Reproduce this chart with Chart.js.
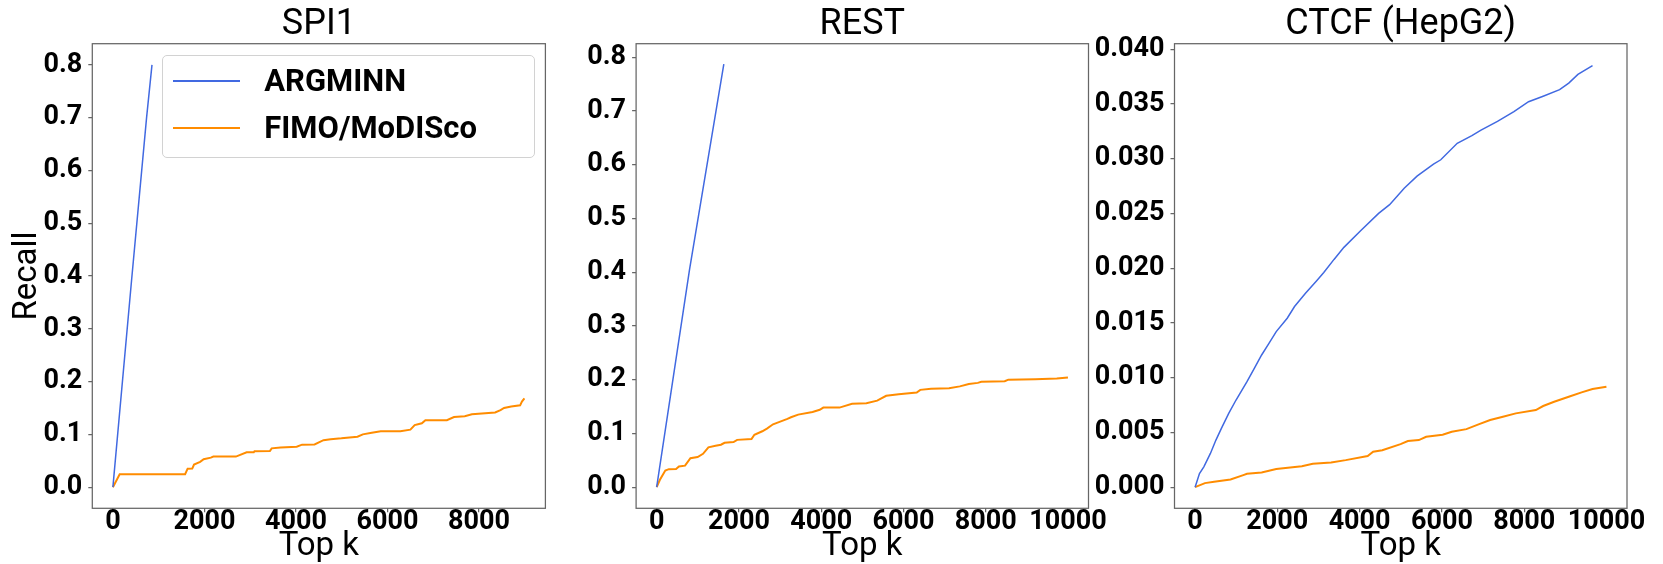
<!DOCTYPE html>
<html>
<head>
<meta charset="utf-8">
<script src="https://cdn.jsdelivr.net/npm/chart.js@4.4.1/dist/chart.umd.min.js"></script>
<style>
  html, body { margin: 0; padding: 0; background: #fff; }
  #wrap { position: relative; width: 1663px; height: 564px; overflow: hidden; background: #fff; }
  canvas { position: absolute; top: 0; }
  #legend { position: absolute; left: 161.7px; top: 54.5px; width: 371px; height: 101px;
            border: 1px solid #d2d2d2; border-radius: 5px; background: rgba(255,255,255,0.85);
            font-family: Roboto, sans-serif; font-weight: 700; font-size: 31px; color: #000; }
  .lg-line { position: absolute; left: 10px; width: 67px; height: 2px; }
  .lg-text { position: absolute; left: 101.6px; line-height: 31px; white-space: nowrap; }
</style>
</head>
<body>
<div id="wrap">
  <canvas id="c1" width="575" height="564" style="left:0px"></canvas>
  <canvas id="c2" width="560" height="564" style="left:560px"></canvas>
  <canvas id="c3" width="578" height="564" style="left:1085px"></canvas>
  <div id="legend">
    <div class="lg-line" style="top:24.8px;background:#4169e1"></div>
    <div class="lg-text" style="top:9.9px">ARGMINN</div>
    <div class="lg-line" style="top:71.5px;background:#ff8c00"></div>
    <div class="lg-text" style="top:56.9px">FIMO/MoDISco</div>
  </div>
</div>
<script>
// ---------------- data ----------------
const seriesNames = ['ARGMINN', 'FIMO/MoDISco'];
const panelTitles = ['SPI1', 'REST', 'CTCF (HepG2)'];

// SPI1
const spi1ArgminnK = [0, 408, 736, 854];
const spi1ArgminnRecall = [0, 0.392, 0.70, 0.80];
const spi1FimoK = [0, 148, 1578, 1633, 1734, 1773, 1906, 1984, 2140, 2195, 2688, 2922, 3078, 3094, 3430, 3469, 3664, 4016, 4133, 4406, 4602, 4758, 4992, 5344, 5461, 5656, 5852, 6281, 6500, 6594, 6750, 6828, 7297, 7453, 7688, 7844, 8352, 8469, 8547, 8703, 8898, 8937, 8992];
const spi1FimoRecall = [0, 0.0245, 0.0245, 0.035, 0.0352, 0.043, 0.048, 0.053, 0.056, 0.058, 0.058, 0.066, 0.066, 0.068, 0.0685, 0.0735, 0.075, 0.0767, 0.0805, 0.081, 0.089, 0.091, 0.0925, 0.0955, 0.100, 0.103, 0.106, 0.106, 0.109, 0.1175, 0.121, 0.127, 0.127, 0.133, 0.1345, 0.138, 0.1415, 0.146, 0.150, 0.153, 0.155, 0.162, 0.168];

// REST
const restArgminnK = [0, 800, 1633];
const restArgminnRecall = [0, 0.405, 0.787];
const restFimoK = [0, 79, 210, 297, 472, 541, 690, 821, 996, 1127, 1258, 1432, 1563, 1651, 1869, 1956, 2306, 2376, 2568, 2681, 2830, 3004, 3179, 3266, 3441, 3790, 3965, 4052, 4445, 4751, 5100, 5362, 5581, 5886, 6323, 6410, 6672, 7109, 7371, 7590, 7808, 7895, 8463, 8550, 9205, 9729, 10000];
const restFimoRecall = [0, 0.0137, 0.031, 0.0335, 0.034, 0.0385, 0.040, 0.054, 0.056, 0.062, 0.074, 0.077, 0.079, 0.0826, 0.084, 0.088, 0.0894, 0.0975, 0.104, 0.109, 0.117, 0.122, 0.127, 0.130, 0.135, 0.140, 0.144, 0.148, 0.148, 0.155, 0.156, 0.161, 0.170, 0.173, 0.176, 0.181, 0.183, 0.184, 0.1875, 0.192, 0.194, 0.196, 0.197, 0.200, 0.201, 0.202, 0.204];

// CTCF (HepG2)
const ctcfArgminnK = [0, 107, 213, 373, 507, 640, 818, 996, 1262, 1440, 1618, 1796, 1973, 2240, 2418, 2684, 2951, 3129, 3378, 3618, 4018, 4462, 4729, 5084, 5396, 5796, 5973, 6373, 6729, 6951, 7351, 7751, 8107, 8462, 8862, 9084, 9307, 9662];
const ctcfArgminnRecall = [0, 0.00125, 0.00186, 0.00308, 0.0043, 0.00537, 0.00674, 0.00796, 0.00963, 0.01085, 0.01207, 0.01314, 0.01421, 0.01543, 0.0165, 0.01771, 0.01883, 0.0196, 0.0208, 0.0219, 0.0234, 0.0250, 0.0258, 0.0273, 0.0284, 0.0295, 0.0299, 0.0314, 0.0321, 0.0326, 0.0334, 0.0343, 0.0352, 0.0357, 0.0363, 0.0369, 0.0377, 0.0385];
const ctcfFimoK = [0, 240, 462, 862, 1173, 1262, 1618, 1973, 2596, 2862, 3307, 3662, 4196, 4329, 4551, 4996, 5173, 5440, 5618, 6018, 6240, 6596, 6907, 7173, 7484, 7796, 8284, 8462, 8729, 9084, 9396, 9662, 10000];
const ctcfFimoRecall = [0, 0.00037, 0.00049, 0.0007, 0.0011, 0.00122, 0.00134, 0.00165, 0.00192, 0.00213, 0.00226, 0.00247, 0.00284, 0.00323, 0.00338, 0.00393, 0.00421, 0.0043, 0.0046, 0.00479, 0.00506, 0.0053, 0.00576, 0.00613, 0.00643, 0.00674, 0.00704, 0.00741, 0.0078, 0.00826, 0.00866, 0.00896, 0.00918];

// ticks
const xTicksSpi1 = [0, 2000, 4000, 6000, 8000];
const xTicksWide = [0, 2000, 4000, 6000, 8000, 10000];
const yTicksRecall = [0.0, 0.1, 0.2, 0.3, 0.4, 0.5, 0.6, 0.7, 0.8];
const yTicksCtcf = [0.000, 0.005, 0.010, 0.015, 0.020, 0.025, 0.030, 0.035, 0.040];

// ---------------- style ----------------
const BLUE = '#4169e1', ORANGE = '#ff8c00', SPINE = '#666666';
Chart.defaults.font.family = 'Roboto, "Liberation Sans", sans-serif';
Chart.defaults.color = '#000';

const framePlugin = {
  id: 'frame',
  afterDatasetsDraw(chart) {
    const a = chart.chartArea, ctx = chart.ctx;
    ctx.save();
    ctx.strokeStyle = SPINE;
    ctx.lineWidth = 1.25;
    ctx.strokeRect(a.left, a.top, a.right - a.left, a.bottom - a.top);
    ctx.restore();
  }
};

function pts(ks, vs) { return ks.map((k, i) => ({ x: k, y: vs[i] })); }

function makeChart(id, cfg) {
  return new Chart(document.getElementById(id), {
    type: 'line',
    data: {
      datasets: [
        { label: seriesNames[0], data: pts(cfg.aK, cfg.aR), borderColor: BLUE, borderWidth: 1.5,
          pointRadius: 0, tension: 0, fill: false },
        { label: seriesNames[1], data: pts(cfg.fK, cfg.fR), borderColor: ORANGE, borderWidth: 2,
          pointRadius: 0, tension: 0, fill: false }
      ]
    },
    options: {
      responsive: false,
      animation: false,
      events: [],
      layout: { padding: { left: 0, right: cfg.padRight, top: 0, bottom: 0 } },
      plugins: {
        legend: { display: false },
        tooltip: { enabled: false },
        title: {
          display: true, text: cfg.title, color: '#000', fullSize: false,
          font: { size: 36, weight: 400, lineHeight: 1 },
          padding: { top: 7.3, bottom: 0.4 }
        }
      },
      scales: {
        x: {
          type: 'linear', min: cfg.xMin, max: cfg.xMax,
          afterFit: s => { s.height = 55.7; },
          afterBuildTicks: s => { s.ticks = cfg.xTicks.map(v => ({ value: v })); },
          grid: { display: true, drawOnChartArea: false, drawTicks: true, tickLength: 4,
                  color: SPINE, lineWidth: 1.25 },
          border: { display: false },
          ticks: { font: { size: 27, weight: 'bold', lineHeight: 1 }, padding: -4,
                   maxRotation: 0, autoSkip: false, callback: v => String(v) },
          title: { display: true, text: 'Top k', color: '#000',
                   font: { size: 33, weight: 400, lineHeight: 1 }, padding: { top: 0, bottom: 0.3 } }
        },
        y: {
          type: 'linear', min: cfg.yMin, max: cfg.yMax,
          afterFit: s => { s.width = cfg.yWidth; },
          afterBuildTicks: s => { s.ticks = cfg.yTicks.map(v => ({ value: v })); },
          grid: { display: true, drawOnChartArea: false, drawTicks: true, tickLength: 4,
                  color: SPINE, lineWidth: 1.25 },
          border: { display: false },
          ticks: { font: { size: 27, weight: 'bold', lineHeight: 1 }, padding: 6,
                   autoSkip: false, callback: v => v.toFixed(cfg.yDec) },
          title: { display: cfg.yTitle, text: 'Recall', color: '#000',
                   font: { size: 33, weight: 400, lineHeight: 1 }, padding: { top: 11, bottom: 0 } }
        }
      }
    },
    plugins: [framePlugin]
  });
}

makeChart('c1', {
  title: panelTitles[0], aK: spi1ArgminnK, aR: spi1ArgminnRecall, fK: spi1FimoK, fR: spi1FimoRecall,
  xMin: -450, xMax: 9450, yMin: -0.04, yMax: 0.84, xTicks: xTicksSpi1, yTicks: yTicksRecall, yDec: 1,
  yWidth: 92.3, padRight: 29.6, yTitle: true
});
makeChart('c2', {
  title: panelTitles[1], aK: restArgminnK, aR: restArgminnRecall, fK: restFimoK, fR: restFimoRecall,
  xMin: -500, xMax: 10500, yMin: -0.0393, yMax: 0.825, xTicks: xTicksWide, yTicks: yTicksRecall, yDec: 1,
  yWidth: 76.1, padRight: 31.5, yTitle: false
});
makeChart('c3', {
  title: panelTitles[2], aK: ctcfArgminnK, aR: ctcfArgminnRecall, fK: ctcfFimoK, fR: ctcfFimoRecall,
  xMin: -500, xMax: 10500, yMin: -0.00193, yMax: 0.0405, xTicks: xTicksWide, yTicks: yTicksCtcf, yDec: 3,
  yWidth: 89.5, padRight: 36, yTitle: false
});
</script>
</body>
</html>
